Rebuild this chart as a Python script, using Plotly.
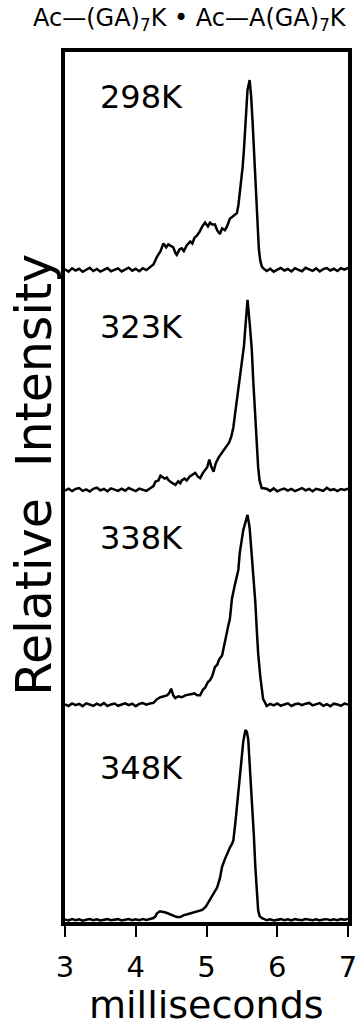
import plotly.graph_objects as go

# Arrival-time distributions (milliseconds) at four temperatures,
# each normalised to a peak height of 1.
temperatures = ["298K", "323K", "338K", "348K"]

base_left_t = [3.00, 3.05, 3.10, 3.15, 3.20, 3.25, 3.30, 3.35, 3.40, 3.45, 3.50, 3.55, 3.60,
               3.65, 3.70, 3.75, 3.80, 3.85, 3.90, 3.95, 4.00, 4.05, 4.10, 4.15, 4.20]
base_right_t = [5.85, 5.90, 5.95, 6.00, 6.05, 6.10, 6.15, 6.20, 6.25, 6.30, 6.35, 6.40,
                6.45, 6.50, 6.55, 6.60, 6.65, 6.70, 6.75, 6.80, 6.85, 6.90, 6.95, 7.00]

# 298 K
t_298 = [4.25, 4.30, 4.35, 4.39, 4.43, 4.46, 4.50, 4.53, 4.56, 4.58, 4.62, 4.65, 4.68, 4.72,
         4.77, 4.80, 4.83, 4.86, 4.90, 4.94, 4.98, 5.02, 5.05, 5.08, 5.12, 5.15, 5.19, 5.22,
         5.26, 5.29, 5.33, 5.36, 5.40, 5.43, 5.45, 5.47, 5.49, 5.51, 5.53, 5.56, 5.58, 5.61,
         5.63, 5.65, 5.67, 5.69, 5.71, 5.72, 5.74, 5.76, 5.78, 5.80]
i_298 = [0.03, 0.07, 0.10, 0.14, 0.12, 0.135, 0.125, 0.12, 0.09, 0.08, 0.11, 0.115, 0.10, 0.13,
         0.15, 0.14, 0.17, 0.18, 0.20, 0.23, 0.25, 0.23, 0.25, 0.24, 0.24, 0.21, 0.19, 0.22,
         0.21, 0.23, 0.27, 0.28, 0.29, 0.30, 0.34, 0.40, 0.46, 0.54, 0.64, 0.84, 0.95, 1.00,
         0.92, 0.79, 0.63, 0.47, 0.30, 0.21, 0.11, 0.05, 0.02, 0.01]
bl_298 = [0.004, -0.008, 0.010, -0.002, 0.007, -0.009, 0.002, 0.012, -0.005, 0.006, -0.008, 0.003,
          0.011, -0.006, 0.001, 0.009, -0.007, 0.004, 0.013, -0.003, 0.007, -0.006, 0.010, 0.000, 0.014]
br_298 = [-0.005, 0.007, -0.008, 0.003, 0.011, -0.002, 0.006, -0.007, 0.010, 0.001, -0.006, 0.012,
          0.002, -0.004, 0.009, -0.007, 0.005, 0.011, -0.002, 0.007, -0.005, 0.010, 0.003, 0.012]

# 323 K
t_323 = [4.25, 4.28, 4.32, 4.35, 4.37, 4.41, 4.44, 4.46, 4.50, 4.53, 4.56, 4.60, 4.63, 4.65,
         4.69, 4.72, 4.76, 4.80, 4.84, 4.88, 4.91, 4.95, 4.98, 5.01, 5.04, 5.07, 5.10, 5.13,
         5.17, 5.21, 5.25, 5.29, 5.32, 5.35, 5.38, 5.40, 5.43, 5.45, 5.47, 5.49, 5.51, 5.53,
         5.55, 5.58, 5.61, 5.64, 5.66, 5.69, 5.71, 5.73, 5.75, 5.78]
i_323 = [0.02, 0.044, 0.05, 0.075, 0.07, 0.06, 0.065, 0.053, 0.04, 0.035, 0.027, 0.045, 0.035, 0.05,
         0.06, 0.05, 0.07, 0.08, 0.09, 0.07, 0.062, 0.09, 0.106, 0.12, 0.16, 0.12, 0.096, 0.14,
         0.17, 0.19, 0.21, 0.23, 0.25, 0.28, 0.33, 0.39, 0.47, 0.53, 0.60, 0.65, 0.70, 0.76,
         0.86, 1.00, 0.88, 0.74, 0.58, 0.35, 0.22, 0.12, 0.05, 0.01]
bl_323 = [-0.004, 0.007, -0.006, 0.005, 0.010, -0.005, 0.003, -0.008, 0.006, 0.012, -0.002, 0.005,
          -0.007, 0.008, 0.002, -0.005, 0.007, -0.004, 0.010, 0.001, -0.006, 0.007, 0.002, -0.005, 0.008]
br_323 = [0.006, -0.005, 0.008, -0.007, 0.002, 0.007, -0.004, 0.005, -0.006, 0.003, 0.010, -0.002,
          0.005, -0.007, 0.006, 0.001, -0.005, 0.011, -0.001, 0.004, -0.006, 0.005, 0.000, 0.007]

# 338 K
t_338 = [4.25, 4.30, 4.35, 4.40, 4.44, 4.47, 4.50, 4.53, 4.56, 4.60, 4.65, 4.70, 4.75, 4.79,
         4.83, 4.87, 4.91, 4.95, 4.98, 5.02, 5.05, 5.08, 5.12, 5.15, 5.18, 5.22, 5.25, 5.28,
         5.31, 5.33, 5.36, 5.40, 5.43, 5.45, 5.47, 5.50, 5.52, 5.55, 5.58, 5.61, 5.64, 5.66,
         5.69, 5.71, 5.73, 5.76, 5.78, 5.80, 5.83]
i_338 = [0.01, 0.03, 0.04, 0.045, 0.05, 0.06, 0.085, 0.05, 0.036, 0.045, 0.04, 0.05, 0.055, 0.06,
         0.06, 0.05, 0.05, 0.08, 0.09, 0.12, 0.13, 0.15, 0.20, 0.21, 0.24, 0.26, 0.32, 0.36,
         0.42, 0.45, 0.56, 0.63, 0.68, 0.71, 0.80, 0.89, 0.92, 0.96, 1.00, 0.93, 0.80, 0.68,
         0.54, 0.40, 0.27, 0.15, 0.07, 0.03, 0.01]
bl_338 = [0.003, -0.006, 0.007, -0.002, 0.005, -0.007, 0.008, 0.001, -0.005, 0.006, -0.003, 0.009,
          -0.006, 0.002, 0.007, -0.005, 0.003, 0.008, -0.002, 0.006, -0.007, 0.005, 0.009, 0.001, 0.007]
br_338 = [-0.006, 0.005, -0.003, 0.007, -0.005, 0.002, 0.008, -0.006, 0.003, 0.007, -0.002, 0.006,
          0.010, -0.003, 0.005, 0.009, -0.005, 0.003, -0.007, 0.006, 0.002, -0.005, 0.007, 0.001]

# 348 K
t_348 = [4.25, 4.28, 4.30, 4.34, 4.37, 4.41, 4.45, 4.49, 4.53, 4.58, 4.63, 4.68, 4.73, 4.77,
         4.82, 4.88, 4.94, 4.99, 5.03, 5.08, 5.12, 5.15, 5.19, 5.22, 5.26, 5.29, 5.33, 5.36,
         5.38, 5.41, 5.43, 5.46, 5.49, 5.52, 5.55, 5.57, 5.59, 5.62, 5.64, 5.67, 5.69, 5.71,
         5.73, 5.75, 5.78]
i_348 = [0.01, 0.02, 0.035, 0.045, 0.044, 0.04, 0.035, 0.03, 0.025, 0.015, 0.015, 0.025, 0.03, 0.035,
         0.04, 0.045, 0.053, 0.07, 0.096, 0.13, 0.15, 0.17, 0.22, 0.28, 0.32, 0.35, 0.38, 0.40,
         0.42, 0.52, 0.60, 0.72, 0.83, 0.94, 1.00, 0.99, 0.95, 0.78, 0.61, 0.44, 0.28, 0.15,
         0.05, 0.02, 0.01]
bl_348 = [0.002, -0.003, 0.004, -0.001, 0.003, -0.004, 0.001, 0.005, -0.002, 0.003, -0.003, 0.002,
          0.004, -0.002, 0.001, 0.004, -0.003, 0.002, 0.005, -0.001, 0.003, -0.002, 0.004, 0.000, 0.005]
br_348 = [-0.002, 0.003, -0.003, 0.002, 0.004, -0.001, 0.003, -0.003, 0.004, 0.001, -0.002, 0.005,
          0.001, -0.002, 0.003, -0.003, 0.002, 0.004, -0.001, 0.003, -0.002, 0.004, 0.001, 0.005]

times = [t_298, t_323, t_338, t_348]
peaks = [i_298, i_323, i_338, i_348]
left_noise = [bl_298, bl_323, bl_338, bl_348]
right_noise = [br_298, br_323, br_338, br_348]

# vertical stacking of the traces (top to bottom)
offsets = [3.42, 2.263, 1.132, 0.0]
label_heights = [0.91, 0.86, 0.88, 0.80]

FONT = "DejaVu Sans"

fig = go.Figure()
for k in range(4):
    t = base_left_t + times[k] + base_right_t
    v = left_noise[k] + peaks[k] + right_noise[k]
    fig.add_trace(go.Scatter(
        x=t, y=[offsets[k] + y for y in v], mode="lines",
        line=dict(color="black", width=2.5), showlegend=False, hoverinfo="skip"))
    fig.add_annotation(x=3.46, y=offsets[k] + label_heights[k], xref="x", yref="y",
                       text=temperatures[k], showarrow=False, xanchor="left", yanchor="middle",
                       font=dict(family=FONT, size=32, color="black"))

fig.add_annotation(x=0.44, y=1.037, xref="paper", yref="paper",
                   text="Ac—(GA)<sub>7</sub>K • Ac—A(GA)<sub>7</sub>K",
                   showarrow=False, xanchor="center", yanchor="middle",
                   font=dict(family=FONT, size=24, color="black"))
fig.add_annotation(x=-0.106, y=0.514, xref="paper", yref="paper",
                   text="Relative  Intensity", textangle=-90,
                   showarrow=False, xanchor="center", yanchor="middle",
                   font=dict(family=FONT, size=49, color="black"))
fig.add_annotation(x=0.5, y=-0.1235, xref="paper", yref="paper",
                   text="milliseconds", showarrow=False, xanchor="center", yanchor="bottom",
                   font=dict(family=FONT, size=38, color="black"))

fig.update_layout(
    width=362, height=1030,
    margin=dict(l=65, r=14, t=52, b=108),
    paper_bgcolor="white", plot_bgcolor="white",
    font=dict(family=FONT, color="black"),
)
fig.update_xaxes(
    range=[3, 7], tickvals=[3, 4, 5, 6, 7], ticks="outside", ticklen=11, tickwidth=2,
    tickcolor="black", showline=True, linewidth=3.5, linecolor="black", mirror=True,
    showgrid=False, zeroline=False, tickfont=dict(family=FONT, size=29, color="black"),
    ticklabelstandoff=5, automargin=False,
)
fig.update_yaxes(
    range=[-0.011, 4.568], showticklabels=False, ticks="", showline=True, linewidth=3.5,
    linecolor="black", mirror=True, showgrid=False, zeroline=False, automargin=False,
)

fig.write_html("out.html")
